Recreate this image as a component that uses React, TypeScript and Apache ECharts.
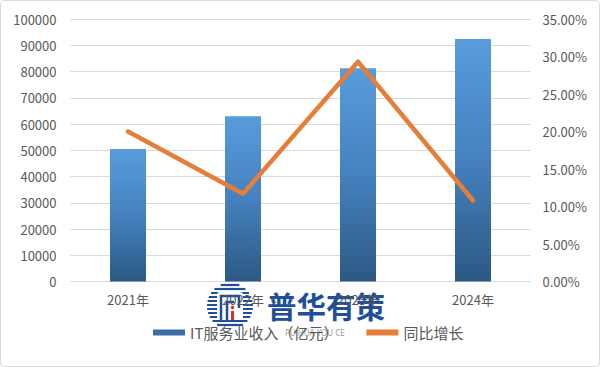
import React, { useEffect, useRef } from "react";
import * as echarts from "echarts";

const categories = ["2021年", "2022年", "2023年", "2024年"];
const revenue = [50500, 63000, 81200, 92400];
const growth = [0.2, 0.117, 0.293, 0.108];
const barName = "IT服务业收入（亿元）";
const lineName = "同比增长";

const FONT = "'Noto Sans CJK SC', 'Noto Sans', sans-serif";
const TXT = "#595959";

function logoGraphics(): any[] {
  const cx = 230, cy = 306, r = 23;
  const els: any[] = [];
  for (let dy = -21; dy <= 21; dy += 4) {
    const hw = Math.sqrt(r * r - dy * dy);
    els.push({
      type: "line",
      shape: { x1: cx - hw, y1: cy + dy, x2: cx + hw, y2: cy + dy },
      style: { stroke: "#1f4e9a", lineWidth: 2.2 },
      silent: true,
    });
  }
  els.push({
    type: "rect",
    shape: { x: cx - 13, y: cy - 14, width: 26, height: 28, r: 3 },
    style: { fill: "#ffffff" },
    silent: true,
  });
  els.push({
    type: "polyline",
    shape: { points: [[cx - 9, cy + 14], [cx - 9, cy - 10], [cx + 9, cy - 10], [cx + 9, cy + 2]] },
    style: { stroke: "#1f4e9a", lineWidth: 2.5, fill: null },
    silent: true,
  });
  els.push({
    type: "polyline",
    shape: { points: [[cx - 3, cy + 14], [cx - 3, cy - 4], [cx + 4, cy - 4]] },
    style: { stroke: "#1f4e9a", lineWidth: 2.5, fill: null },
    silent: true,
  });
  els.push({
    type: "rect",
    shape: { x: cx + 1, y: cy + 5, width: 3, height: 9 },
    style: { fill: "#d9302a" },
    silent: true,
  });
  els.push({
    type: "circle",
    shape: { cx: cx + 2.5, cy: cy + 1.5, r: 1.8 },
    style: { fill: "#d9302a" },
    silent: true,
  });
  return els;
}

export default function App() {
  const ref = useRef<HTMLDivElement>(null);
  useEffect(() => {
    if (!ref.current) return;
    const chart = echarts.init(ref.current, null, { renderer: "svg" });
    chart.setOption({
      animation: false,
      backgroundColor: "#ffffff",
      grid: { left: 70.5, right: 69.5, top: 19, bottom: 85.5, containLabel: false },
      legend: {
        bottom: 22,
        left: 148,
        itemGap: 28,
        itemWidth: 32,
        itemHeight: 6,
        textStyle: { color: TXT, fontSize: 15, fontFamily: FONT },
        data: [
          { name: barName, icon: "rect", itemStyle: { color: "#3a6fa5" } },
          { name: lineName, icon: "rect", itemStyle: { color: "#E47E38" } },
        ],
      },
      xAxis: {
        type: "category",
        data: categories,
        axisLine: { lineStyle: { color: "#d9d9d9" } },
        axisTick: { show: false },
        axisLabel: { color: TXT, fontSize: 13, fontFamily: FONT, margin: 11 },
      },
      yAxis: [
        {
          type: "value",
          min: 0,
          max: 100000,
          interval: 10000,
          axisLine: { show: false },
          axisTick: { show: false },
          splitLine: { lineStyle: { color: "#d9d9d9" } },
          axisLabel: {
            color: TXT,
            fontSize: 13,
            fontFamily: FONT,
            margin: 14,
            formatter: (v: number) => String(v),
          },
        },
        {
          type: "value",
          min: 0,
          max: 0.35,
          interval: 0.05,
          axisLine: { show: false },
          axisTick: { show: false },
          splitLine: { show: false },
          axisLabel: {
            color: TXT,
            fontSize: 13,
            fontFamily: FONT,
            margin: 12,
            formatter: (v: number) => (v * 100).toFixed(2) + "%",
          },
        },
      ],
      series: [
        {
          name: barName,
          type: "bar",
          data: revenue,
          barWidth: 36,
          itemStyle: {
            color: new echarts.graphic.LinearGradient(0, 0, 0, 1, [
              { offset: 0, color: "#589CDC" },
              { offset: 0.5, color: "#4581BE" },
              { offset: 1, color: "#2C5984" },
            ]),
          },
        },
        {
          name: lineName,
          type: "line",
          yAxisIndex: 1,
          data: growth,
          symbol: "none",
          lineStyle: { color: "#E47E38", width: 4.5, cap: "round", join: "round" },
          itemStyle: { color: "#E47E38" },
        },
      ],
      graphic: [
        {
          type: "rect",
          shape: { x: 0.5, y: 0.5, width: 599, height: 366, r: 4 },
          style: { fill: null, stroke: "#d9d9d9", lineWidth: 1 },
          silent: true,
          z: 100,
        },
        {
          type: "group",
          z: 100,
          silent: true,
          children: [
            ...logoGraphics(),
            {
              type: "text",
              x: 267,
              y: 290,
              style: {
                text: "普华有策",
                fill: "#1f4e9a",
                font: "bold 29.5px 'Noto Sans CJK SC'",
              },
              silent: true,
            },
            {
              type: "text",
              x: 285,
              y: 328,
              style: {
                text: "PU HUA YOU CE",
                fill: "#9a9a9a",
                font: "8px 'Noto Sans', sans-serif",
              },
              silent: true,
            },
          ],
        },
      ],
    });
    return () => chart.dispose();
  }, []);
  return (
    <div
      ref={ref}
      style={{ position: "absolute", left: 0, top: 0, width: 600, height: 367 }}
    />
  );
}
